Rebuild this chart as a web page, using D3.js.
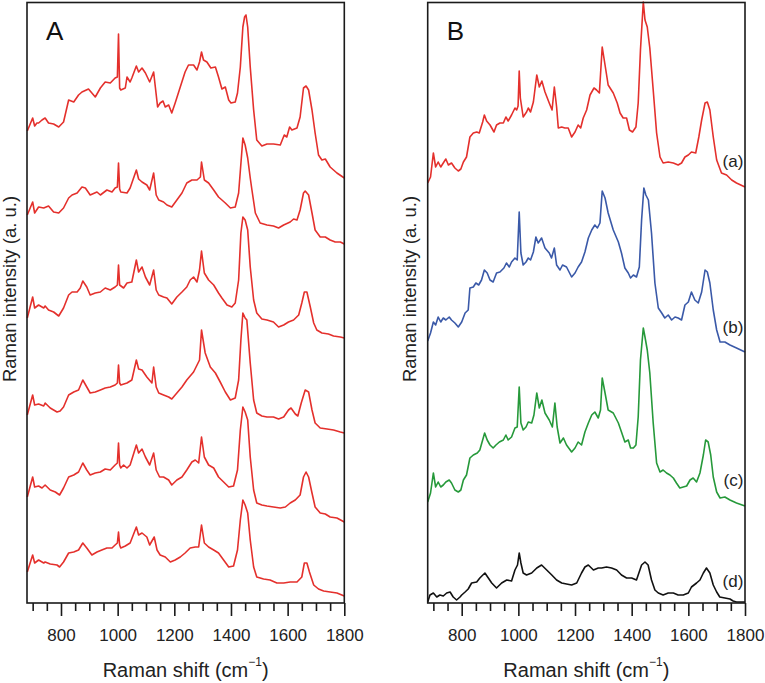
<!DOCTYPE html>
<html><head><meta charset="utf-8">
<script src="https://cdn.jsdelivr.net/npm/d3@7"></script>
<style>body{margin:0;background:#fff}svg{display:block}text{font-family:"Liberation Sans",Arial,Helvetica,sans-serif}</style>
</head><body><svg id="c" width="765" height="683"></svg>
<script>
// x: Raman shift (cm-1); values: intensity (a.u., stacked as plotted)
const wnDomain=[680,1800];
const intensityDomain=[0,600];
const tickValues=d3.range(700,1801,50);
const labeledTicks=[800,1000,1200,1400,1600,1800];

const specA1=[[681,472],[700,485],[707,477],[715,480],[721,480],[733,483],[744,485],[756,480],[774,479],[792,476],[809,481],[827,503],[845,501],[862,508],[874,511],[897,514],[921,506],[939,515],[956,521],[974,520],[991,525],[999,526],[1003,569],[1007,515],[1011,513],[1027,515],[1033,526],[1044,521],[1050,525],[1066,537],[1074,531],[1086,535],[1098,530],[1113,521],[1127,531],[1133,516],[1141,496],[1150,500],[1160,502],[1168,496],[1180,498],[1191,490],[1203,500],[1221,516],[1238,531],[1250,538],[1268,538],[1280,533],[1289,541],[1296,551],[1303,543],[1315,541],[1329,535],[1345,536],[1356,526],[1368,514],[1380,516],[1392,503],[1400,500],[1415,501],[1423,510],[1433,536],[1442,576],[1448,586],[1453,588],[1459,576],[1468,536],[1480,493],[1491,463],[1509,457],[1527,459],[1550,459],[1574,458],[1588,468],[1597,466],[1607,476],[1615,473],[1633,475],[1644,486],[1656,515],[1665,517],[1674,513],[1686,493],[1697,470],[1709,448],[1721,443],[1733,444],[1750,436],[1774,430],[1800,425]];
const specA2=[[681,388],[700,401],[707,390],[721,396],[739,395],[756,397],[774,391],[792,390],[809,395],[827,405],[839,408],[857,410],[874,416],[886,415],[903,408],[927,411],[939,408],[962,413],[980,411],[991,415],[999,416],[1003,440],[1007,414],[1011,411],[1033,410],[1044,415],[1066,433],[1074,424],[1086,421],[1103,418],[1113,413],[1127,430],[1136,408],[1145,403],[1162,401],[1174,398],[1191,396],[1209,403],[1227,410],[1244,420],[1262,423],[1280,423],[1292,426],[1296,441],[1306,423],[1321,420],[1339,413],[1356,406],[1368,403],[1380,400],[1398,395],[1415,396],[1427,410],[1436,443],[1442,465],[1450,458],[1459,445],[1468,425],[1474,413],[1486,390],[1503,380],[1527,378],[1550,377],[1568,375],[1586,378],[1609,381],[1621,384],[1633,383],[1644,393],[1656,410],[1662,412],[1674,408],[1686,390],[1697,373],[1715,366],[1733,366],[1750,363],[1768,361],[1786,361],[1800,359]];
const specA3=[[681,285],[700,306],[707,295],[721,298],[739,295],[744,297],[756,293],[774,291],[792,287],[809,295],[827,308],[839,311],[857,311],[868,315],[877,322],[891,316],[903,308],[921,310],[939,311],[956,315],[974,313],[991,316],[999,318],[1003,338],[1007,318],[1021,315],[1033,320],[1050,321],[1066,343],[1074,331],[1086,336],[1098,326],[1113,318],[1127,333],[1136,313],[1145,308],[1162,306],[1174,305],[1191,299],[1209,306],[1227,311],[1244,316],[1256,323],[1268,326],[1280,321],[1289,333],[1296,352],[1306,330],[1321,323],[1339,318],[1356,310],[1368,305],[1386,298],[1403,296],[1415,300],[1427,323],[1435,370],[1442,386],[1450,383],[1459,373],[1468,336],[1480,303],[1491,290],[1509,284],[1527,283],[1550,281],[1568,276],[1586,278],[1603,281],[1621,283],[1639,288],[1650,300],[1659,311],[1668,311],[1680,296],[1692,280],[1703,273],[1721,270],[1744,269],[1762,267],[1786,266],[1800,265]];
const specA4=[[681,188],[700,208],[707,198],[721,199],[739,197],[744,200],[762,195],[786,191],[797,192],[809,196],[827,208],[845,211],[862,213],[877,223],[891,216],[903,210],[921,211],[939,213],[956,215],[974,216],[991,218],[999,220],[1003,238],[1007,220],[1011,218],[1033,220],[1050,223],[1066,243],[1074,234],[1086,233],[1103,226],[1121,220],[1127,236],[1136,216],[1145,210],[1162,208],[1180,206],[1191,204],[1209,210],[1227,216],[1244,223],[1268,231],[1289,243],[1296,273],[1309,250],[1327,236],[1345,230],[1362,221],[1380,211],[1398,203],[1415,205],[1427,223],[1435,263],[1442,290],[1450,285],[1456,283],[1468,240],[1480,203],[1491,190],[1509,187],[1527,186],[1550,186],[1568,184],[1586,186],[1603,193],[1612,195],[1627,189],[1636,187],[1648,200],[1662,213],[1674,211],[1686,193],[1697,180],[1715,175],[1739,174],[1762,173],[1786,171],[1800,170]];
const specA5=[[681,106],[700,126],[707,116],[721,117],[733,115],[744,118],[762,113],[780,111],[795,108],[809,115],[827,126],[845,128],[862,131],[877,140],[891,133],[903,128],[921,130],[939,131],[956,134],[974,133],[991,138],[999,140],[1003,160],[1007,138],[1011,135],[1021,138],[1033,135],[1044,138],[1066,158],[1074,150],[1086,154],[1098,146],[1113,138],[1127,150],[1136,133],[1148,126],[1162,126],[1180,123],[1191,118],[1209,123],[1227,126],[1244,133],[1262,141],[1274,143],[1286,140],[1296,166],[1306,146],[1321,138],[1339,135],[1356,126],[1374,121],[1392,116],[1409,117],[1423,133],[1433,173],[1442,196],[1450,191],[1459,183],[1468,146],[1480,113],[1491,100],[1509,98],[1527,97],[1550,96],[1574,95],[1592,96],[1609,100],[1627,103],[1644,108],[1656,126],[1665,131],[1674,126],[1686,110],[1697,96],[1715,90],[1733,89],[1750,86],[1774,85],[1800,81]];
const specA6=[[681,31],[700,48],[707,40],[721,43],[739,40],[744,41],[762,39],[786,38],[795,36],[809,41],[827,50],[845,51],[862,53],[877,60],[891,55],[909,48],[927,51],[944,53],[962,55],[980,55],[991,58],[999,60],[1003,71],[1007,58],[1011,55],[1027,57],[1044,60],[1066,76],[1074,68],[1086,70],[1103,66],[1113,58],[1129,66],[1139,53],[1150,48],[1168,46],[1186,41],[1203,43],[1221,46],[1238,50],[1256,55],[1274,56],[1286,56],[1296,78],[1306,60],[1321,56],[1339,53],[1356,50],[1374,43],[1392,36],[1409,37],[1423,53],[1433,83],[1442,103],[1450,98],[1459,90],[1468,63],[1480,36],[1491,26],[1515,24],[1538,23],[1562,20],[1586,20],[1609,21],[1633,21],[1650,26],[1659,40],[1668,40],[1677,31],[1692,18],[1709,14],[1727,12],[1750,11],[1774,10],[1800,7]];

const specBa=[[680,420],[690,426],[700,450],[708,436],[717,441],[726,436],[735,440],[744,444],[753,438],[764,440],[776,435],[788,432],[797,434],[806,441],[817,446],[829,466],[841,470],[853,471],[862,470],[874,481],[880,488],[888,482],[900,478],[914,471],[923,478],[935,480],[947,480],[956,486],[964,482],[976,488],[988,495],[994,493],[999,497],[1003,532],[1007,505],[1017,486],[1029,491],[1035,495],[1043,491],[1053,501],[1065,528],[1074,516],[1083,522],[1094,511],[1109,500],[1119,493],[1127,516],[1135,496],[1141,475],[1153,476],[1164,475],[1176,475],[1188,466],[1200,471],[1211,478],[1220,475],[1229,485],[1241,493],[1253,508],[1267,515],[1276,513],[1286,510],[1296,556],[1306,538],[1317,518],[1335,510],[1349,500],[1359,490],[1370,485],[1382,485],[1392,473],[1403,471],[1415,476],[1423,500],[1431,553],[1441,601],[1447,583],[1455,576],[1464,555],[1476,513],[1488,470],[1500,446],[1511,440],[1529,441],[1547,440],[1564,438],[1576,440],[1588,446],[1600,448],[1611,451],[1626,450],[1637,466],[1647,483],[1659,500],[1667,501],[1676,493],[1688,466],[1700,443],[1717,430],[1735,428],[1753,423],[1770,420],[1800,416]];
const specBb=[[680,262],[690,270],[700,281],[708,278],[717,286],[726,281],[735,285],[744,283],[756,286],[764,283],[776,280],[788,276],[800,281],[812,290],[823,293],[829,315],[841,316],[850,320],[860,318],[870,323],[880,333],[890,330],[900,323],[911,321],[923,330],[935,331],[949,335],[958,340],[968,336],[976,341],[988,345],[996,343],[1003,391],[1009,350],[1017,338],[1027,341],[1035,345],[1043,343],[1053,351],[1062,366],[1070,360],[1082,365],[1094,355],[1109,350],[1117,345],[1127,355],[1135,338],[1147,333],[1156,338],[1170,336],[1188,326],[1200,330],[1211,336],[1223,341],[1235,351],[1247,365],[1259,373],[1270,378],[1279,375],[1288,380],[1296,412],[1306,405],[1317,390],[1335,373],[1353,361],[1364,350],[1376,335],[1388,330],[1396,325],[1406,328],[1417,326],[1427,336],[1435,383],[1443,415],[1450,408],[1459,403],[1470,370],[1482,320],[1494,295],[1506,290],[1517,285],[1529,288],[1541,283],[1553,286],[1564,285],[1576,283],[1588,298],[1600,301],[1611,311],[1623,303],[1635,300],[1647,311],[1659,333],[1667,331],[1676,320],[1688,293],[1700,273],[1712,261],[1729,261],[1747,258],[1770,255],[1800,251]];
const specBc=[[680,101],[690,110],[700,130],[708,116],[717,121],[726,116],[735,118],[744,121],[756,123],[764,120],[776,113],[788,111],[797,113],[806,123],[817,128],[829,145],[841,148],[855,150],[864,153],[874,163],[881,170],[890,163],[900,158],[911,155],[921,158],[933,161],[947,163],[956,168],[964,163],[976,166],[988,175],[996,176],[1003,216],[1009,180],[1017,173],[1027,176],[1035,181],[1047,180],[1055,188],[1065,210],[1074,195],[1083,203],[1094,190],[1109,183],[1120,176],[1129,200],[1137,176],[1147,160],[1159,165],[1170,158],[1188,151],[1200,155],[1211,161],[1223,158],[1235,171],[1247,180],[1259,188],[1270,191],[1282,185],[1290,193],[1296,225],[1306,210],[1317,193],[1335,190],[1353,180],[1364,171],[1376,161],[1388,163],[1396,155],[1406,155],[1415,158],[1423,186],[1431,243],[1441,275],[1447,266],[1455,253],[1464,230],[1476,180],[1488,140],[1500,131],[1511,133],[1523,130],[1535,128],[1547,125],[1558,120],[1570,115],[1582,116],[1594,117],[1606,123],[1617,125],[1629,121],[1641,130],[1653,148],[1661,163],[1670,161],[1679,148],[1688,126],[1700,111],[1712,105],[1729,106],[1747,103],[1770,100],[1800,97]];
const specBd=[[680,1],[688,8],[700,10],[712,6],[723,8],[735,7],[747,10],[759,11],[770,6],[782,3],[794,6],[800,8],[812,11],[823,14],[835,20],[853,21],[864,25],[882,30],[894,25],[906,20],[923,15],[941,20],[959,23],[976,22],[988,33],[997,38],[1003,50],[1009,40],[1017,30],[1029,28],[1047,30],[1065,35],[1082,38],[1100,33],[1118,28],[1135,23],[1153,20],[1170,19],[1188,18],[1206,20],[1223,30],[1235,36],[1247,38],[1265,33],[1282,35],[1294,35],[1311,36],[1329,35],[1347,33],[1364,28],[1382,25],[1400,25],[1417,23],[1435,38],[1447,41],[1458,38],[1470,23],[1482,13],[1494,10],[1511,8],[1529,10],[1547,10],[1564,8],[1582,8],[1600,10],[1611,16],[1629,20],[1641,23],[1653,30],[1664,35],[1676,30],[1688,18],[1700,11],[1711,6],[1729,5],[1747,4],[1758,2],[1770,1],[1800,1]];

const seriesLabels=["(a)","(b)","(c)","(d)"];
const seriesLabelLevels=[436,270,117,16];
const panelLetters=["A","B"];
const xTitle="Raman shift (cm";
const yTitle="Raman intensity (a. u.)";

const RED="#e4302c";
const colorsA=[RED,RED,RED,RED,RED,RED];
const colorsB=[RED,"#3a59a8","#26993a","#111111"];

const svg=d3.select("#c");
const plotTop=2.5,plotBottom=603;
const yScale=d3.scaleLinear().domain(intensityDomain).range([plotBottom,3]);

function drawPanel(left,right,series,colors,letter,yTitleX,labels){
  const x=d3.scaleLinear().domain(wnDomain).range([left,right]);
  const g=svg.append("g");
  const line=d3.line().x(d=>x(d[0])).y(d=>yScale(d[1]));
  series.forEach((s,i)=>{
    g.append("path").datum(s).attr("d",line).attr("fill","none")
     .attr("stroke",colors[i]).attr("stroke-width",1.6).attr("stroke-linejoin","round");
  });
  g.append("rect").attr("x",left).attr("y",plotTop).attr("width",right-left).attr("height",plotBottom-plotTop)
   .attr("fill","none").attr("stroke","#1a1a1a").attr("stroke-width",1.6);
  const ax=g.append("g").attr("transform",`translate(0,${plotBottom})`)
   .call(d3.axisBottom(x).tickValues(tickValues).tickSize(12).tickPadding(0)
     .tickFormat(d=>labeledTicks.includes(d)?d:""));
  ax.select(".domain").remove();
  ax.selectAll(".tick line").attr("stroke","#1a1a1a").attr("stroke-width",1.6)
    .attr("y2",d=>labeledTicks.includes(d)?13:8);
  ax.selectAll(".tick text").attr("y",25.5).attr("font-size",17).attr("fill","#222")
    .attr("font-family",'"Liberation Sans",Arial,sans-serif');
  const cx=(left+right)/2;
  const t=g.append("text").attr("x",cx).attr("y",677).attr("text-anchor","middle")
    .attr("font-size",20).attr("fill","#222");
  t.append("tspan").text(xTitle);
  t.append("tspan").attr("dy",-11).attr("font-size",12).text("\u22121");
  t.append("tspan").attr("dy",11).text(")");
  g.append("text").attr("transform",`translate(${yTitleX},289) rotate(-90)`)
    .attr("text-anchor","middle").attr("font-size",18.5).attr("fill","#222").text(yTitle);
  g.append("text").attr("x",left+19).attr("y",40).attr("font-size",26).attr("fill","#111").text(letter);
  if(labels){
    labels.forEach((lab,i)=>{
      g.append("text").attr("x",x(1794)).attr("y",yScale(seriesLabelLevels[i]))
        .attr("text-anchor","end").attr("font-size",17).attr("fill","#222").text(lab);
    });
  }
}
drawPanel(27,344.3,[specA1,specA2,specA3,specA4,specA5,specA6],colorsA,panelLetters[0],15.5,null);
drawPanel(427.7,745,[specBa,specBb,specBc,specBd],colorsB,panelLetters[1],416,seriesLabels);
</script></body></html>
